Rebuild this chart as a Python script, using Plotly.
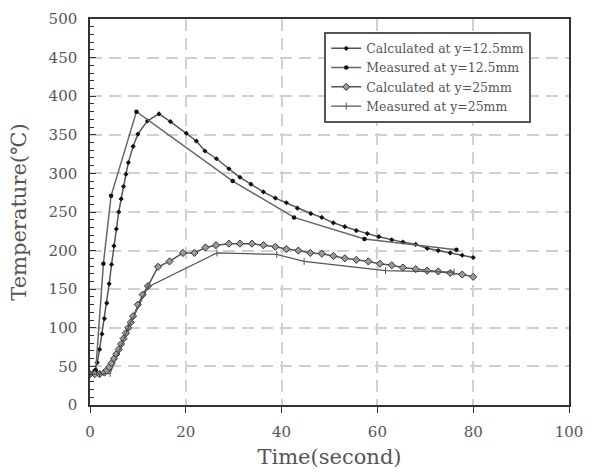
import plotly.graph_objects as go

# ---- data ----
calc12_t = [0, 0.5, 1, 1.5, 2, 2.5, 3, 3.5, 4, 4.5, 5, 5.5, 6, 6.5, 7, 7.5, 8, 9, 10, 12, 14.4, 16.8,
            20.1, 22.2, 24, 26.4, 29, 31.3, 33.6, 36.2, 38.7, 41, 43.3, 46.1, 48.4, 50.8, 53.2, 55.6,
            57.9, 60.3, 63, 65.3, 68, 70.4, 72.7, 75.2, 77.7, 80]
calc12_T = [40, 41, 45, 55, 72, 92, 112, 132, 157, 182, 206, 228, 250, 267, 283, 299, 314, 335, 351, 368, 377, 367,
            352, 342, 329, 319, 306, 295, 286, 276, 268, 262, 255, 248, 243, 236, 231, 226,
            222, 218, 214, 211, 208, 203, 200, 197, 194, 191]

meas12_t = [0, 1.2, 2.8, 4.4, 9.7, 29.8, 42.6, 57.3, 76.5]
meas12_T = [40, 45, 183, 271, 380, 290, 243, 215, 201]

calc25_t = [0, 1, 2, 3, 3.5, 4, 4.5, 5, 5.5, 6, 6.5, 7, 7.5, 8, 8.5, 9, 10, 11, 12.1, 14.2, 16.6, 19.4, 21.8,
            24.1, 26.3, 29, 31.3, 33.8, 36.2, 38.7, 41, 43.5, 46, 48.4, 50.8, 53.2, 55.6, 58.1, 60.5,
            63, 65.3, 68, 70.4, 72.7, 75.2, 77.7, 80]
calc25_T = [40, 40, 40, 42, 45, 49, 54, 60, 66, 72, 79, 86, 93, 100, 107, 115, 130, 143, 154, 179, 186, 197, 197,
            204, 207, 209, 209, 209, 207, 205, 202, 200, 197, 196, 193, 190, 188, 186, 183,
            181, 178, 176, 174, 173, 171, 169, 166]

meas25_t = [0, 2, 4.2, 8, 12.1, 26.5, 39, 44.7, 61.7, 76]
meas25_T = [40, 40, 41, 100, 153, 197, 195, 186, 174, 172]

x_ticks = [0, 20, 40, 60, 80, 100]
y_ticks = [0, 50, 100, 150, 200, 250, 300, 350, 400, 450, 500]

FONT = "DejaVu Serif"
TXT = "#555555"

fig = go.Figure()
fig.add_trace(go.Scatter(x=calc12_t, y=calc12_T, mode="lines+markers",
                         name="Calculated at y=12.5mm",
                         line=dict(color="#555555", width=1.5),
                         marker=dict(symbol="diamond", size=4, color="#111111")))
fig.add_trace(go.Scatter(x=meas12_t, y=meas12_T, mode="lines+markers",
                         name="Measured at y=12.5mm",
                         line=dict(color="#666666", width=1.5),
                         marker=dict(symbol="circle", size=4.5, color="#111111")))
fig.add_trace(go.Scatter(x=calc25_t, y=calc25_T, mode="lines+markers",
                         name="Calculated at y=25mm",
                         line=dict(color="#555555", width=1.5),
                         marker=dict(symbol="diamond", size=5.5, color="#9a9a9a",
                                     line=dict(color="#333333", width=1))))
fig.add_trace(go.Scatter(x=meas25_t, y=meas25_T, mode="lines+markers",
                         name="Measured at y=25mm",
                         line=dict(color="#555555", width=1.2),
                         marker=dict(symbol="line-ns-open", size=5,
                                     line=dict(color="#333333", width=1))))

fig.update_layout(
    width=593, height=475,
    margin=dict(l=90, r=22, t=10, b=70),
    paper_bgcolor="white", plot_bgcolor="white",
    font=dict(family=FONT, color=TXT),
    showlegend=True,
    legend=dict(x=0.489, y=0.967, xanchor="left", yanchor="top",
                bgcolor="white", bordercolor="#555555", borderwidth=2,
                font=dict(family=FONT, size=12.5, color=TXT),
                tracegroupgap=0),
    xaxis=dict(range=[0, 100], tickvals=x_ticks, ticktext=[str(v) for v in x_ticks],
               showline=True, linecolor="#333333", linewidth=1.5, mirror=True,
               ticks="outside", ticklen=6, tickcolor="#333333",
               showgrid=True, gridcolor="#d0d0d0", gridwidth=1.5, griddash="12px,7px",
               zeroline=False, ticklabelstandoff=6,
               tickfont=dict(family=FONT, size=15, color=TXT),
               title=dict(text="Time(second)", font=dict(family=FONT, size=21, color=TXT),
                          standoff=10)),
    yaxis=dict(range=[0, 500], tickvals=y_ticks, ticktext=[str(v) for v in y_ticks],
               showline=True, linecolor="#333333", linewidth=1.5, mirror=True,
               ticks="inside", ticklen=6, tickcolor="#333333",
               minor=dict(dtick=10, ticks="inside", ticklen=4, tickcolor="#333333", showgrid=False),
               showgrid=True, gridcolor="#d0d0d0", gridwidth=1.5, griddash="12px,7px",
               zeroline=False, ticklabelstandoff=8,
               tickfont=dict(family=FONT, size=15, color=TXT),
               title=dict(text="Temperature(℃)", font=dict(family=FONT, size=21, color=TXT),
                          standoff=16)),
)

fig.write_html("out.html")
